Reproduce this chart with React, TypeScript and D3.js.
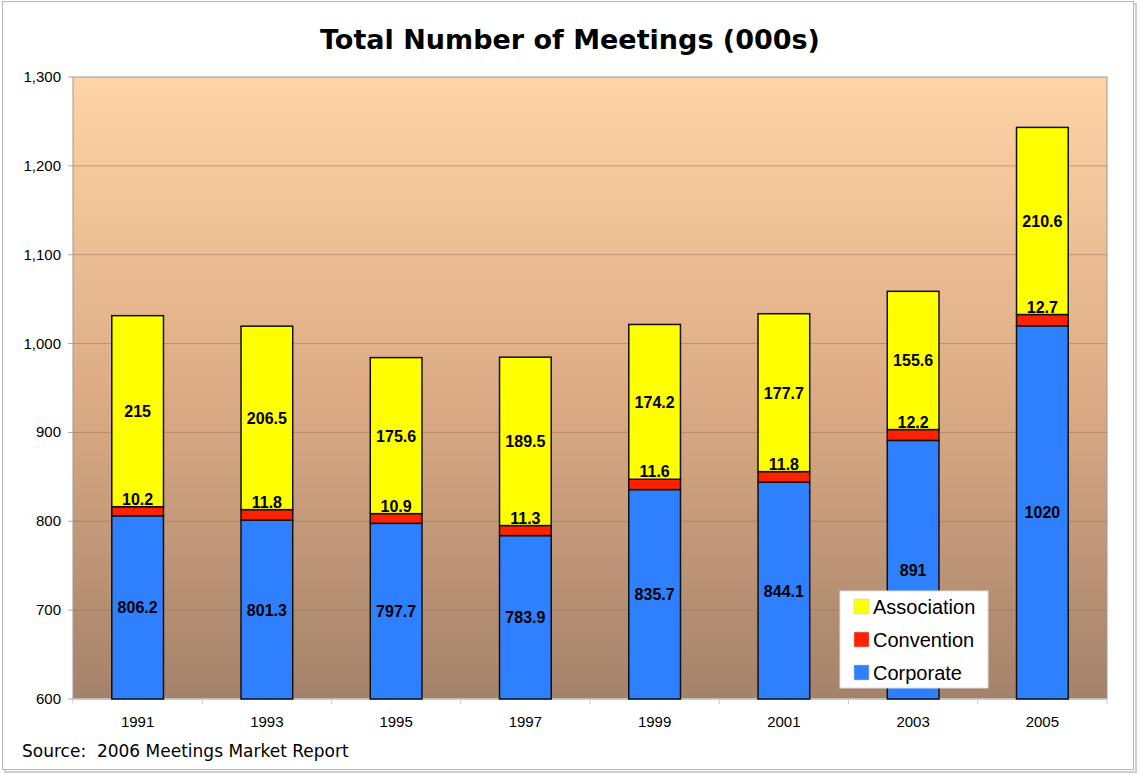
import React from "react";
import * as d3 from "d3";

const years = ["1991", "1993", "1995", "1997", "1999", "2001", "2003", "2005"];
const corporate = [806.2, 801.3, 797.7, 783.9, 835.7, 844.1, 891, 1020];
const convention = [10.2, 11.8, 10.9, 11.3, 11.6, 11.8, 12.2, 12.7];
const association = [215, 206.5, 175.6, 189.5, 174.2, 177.7, 155.6, 210.6];
const corporateLabels = ["806.2", "801.3", "797.7", "783.9", "835.7", "844.1", "891", "1020"];
const conventionLabels = ["10.2", "11.8", "10.9", "11.3", "11.6", "11.8", "12.2", "12.7"];
const associationLabels = ["215", "206.5", "175.6", "189.5", "174.2", "177.7", "155.6", "210.6"];
const yTicks = [600, 700, 800, 900, 1000, 1100, 1200, 1300];
const seriesNames = ["Association", "Convention", "Corporate"];
const seriesColors = ["#FFFF00", "#FF2200", "#2F80FF"];

const W = 1140, H = 775;
const plot = { left: 73, right: 1107, top: 77, bottom: 699 };

export default function App() {
  const x = d3.scaleBand<string>().domain(years).range([plot.left, plot.right]).paddingInner(0.6).paddingOuter(0.3);
  const xb = d3.scaleBand<string>().domain(years).range([plot.left, plot.right]);
  const y = d3.scaleLinear().domain([600, 1300]).range([plot.bottom, plot.top]);
  const fmt = d3.format(",");
  const font = "'Liberation Sans', Arial, sans-serif";
  const verd = "'DejaVu Sans', Verdana, sans-serif";

  return (
    <div style={{ position: "absolute", left: 0, top: 0, width: W, height: H }}>
      <svg width={W} height={H} style={{ display: "block" }}>
        <defs>
          <linearGradient id="bg" x1="0" y1="0" x2="0" y2="1">
            <stop offset="0" stopColor="#FFD4A6" />
            <stop offset="0.5" stopColor="#DDAC86" />
            <stop offset="1" stopColor="#A4826A" />
          </linearGradient>
        </defs>
        <rect x={0} y={0} width={W} height={H} fill="#fff" />
        <rect x={5} y={4} width={1131} height={768} fill="none" stroke="#d0d0d0" strokeWidth={2} />
        <rect x={2.5} y={1.5} width={1131} height={768} fill="#fff" stroke="#b8b8b8" strokeWidth={1} />
        <text x={570} y={49} textAnchor="middle" fontFamily={verd} fontWeight="bold" fontSize={27} fill="#000">
          Total Number of Meetings (000s)
        </text>
        <rect x={plot.left} y={plot.top} width={plot.right - plot.left} height={plot.bottom - plot.top} fill="url(#bg)" stroke="#9a9a9a" strokeWidth={1} />
        {yTicks.slice(1, -1).map((t) => (
          <line key={t} x1={plot.left} x2={plot.right} y1={y(t)} y2={y(t)} stroke="#9C7358" strokeOpacity={0.55} strokeWidth={1} />
        ))}
        {yTicks.map((t) => (
          <g key={"yt" + t}>
            <line x1={plot.left - 5} x2={plot.left} y1={y(t)} y2={y(t)} stroke="#aaa" />
            <text x={61} y={y(t) + 5} textAnchor="end" fontFamily={font} fontSize={15} fill="#000">{fmt(t)}</text>
          </g>
        ))}
        <line x1={plot.left} x2={plot.right} y1={plot.bottom} y2={plot.bottom} stroke="#c8c8c8" strokeWidth={1.5} />
        {years.map((yr) => (
          <line key={"xt" + yr} x1={xb(yr)!} x2={xb(yr)!} y1={plot.bottom} y2={plot.bottom + 5} stroke="#ccc" />
        ))}
        <line x1={plot.right} x2={plot.right} y1={plot.bottom} y2={plot.bottom + 5} stroke="#ccc" />
        {years.map((yr, i) => {
          const bx = x(yr)!;
          const bw = x.bandwidth();
          const c0 = 600, c1 = corporate[i];
          const v1 = c1 + convention[i];
          const a1 = v1 + association[i];
          const cx = bx + bw / 2;
          return (
            <g key={yr}>
              <rect x={bx} y={y(c1)} width={bw} height={y(c0) - y(c1)} fill={seriesColors[2]} stroke="#111" strokeWidth={1.5} />
              <rect x={bx} y={y(v1)} width={bw} height={y(c1) - y(v1)} fill={seriesColors[1]} stroke="#111" strokeWidth={1.5} />
              <rect x={bx} y={y(a1)} width={bw} height={y(v1) - y(a1)} fill={seriesColors[0]} stroke="#111" strokeWidth={1.5} />
              <text x={cx} y={(y(c0) + y(c1)) / 2 + 6} textAnchor="middle" fontFamily={font} fontWeight="bold" fontSize={16}>{corporateLabels[i]}</text>
              <text x={cx} y={y(v1) - 2} textAnchor="middle" fontFamily={font} fontWeight="bold" fontSize={16}>{conventionLabels[i]}</text>
              <text x={cx} y={(y(v1) + y(a1)) / 2 + 6} textAnchor="middle" fontFamily={font} fontWeight="bold" fontSize={16}>{associationLabels[i]}</text>
              <text x={xb(yr)! + xb.bandwidth() / 2} y={727} textAnchor="middle" fontFamily={font} fontSize={15} fill="#000">{yr}</text>
            </g>
          );
        })}
        <g>
          <rect x={840} y={591} width={148} height={97} fill="#fff" stroke="#ddd" strokeWidth={1} />
          {seriesNames.map((n, i) => (
            <g key={n}>
              <rect x={854} y={599 + i * 33} width={15} height={15} fill={seriesColors[i]} stroke="#ccc" strokeWidth={0.5} />
              <text x={873} y={614 + i * 33} fontFamily={font} fontSize={20} fill="#000">{n}</text>
            </g>
          ))}
        </g>
        <text x={22} y={757} fontFamily={verd} fontSize={17} fill="#000" style={{ whiteSpace: "pre" }}>Source:  2006 Meetings Market Report</text>
      </svg>
    </div>
  );
}
